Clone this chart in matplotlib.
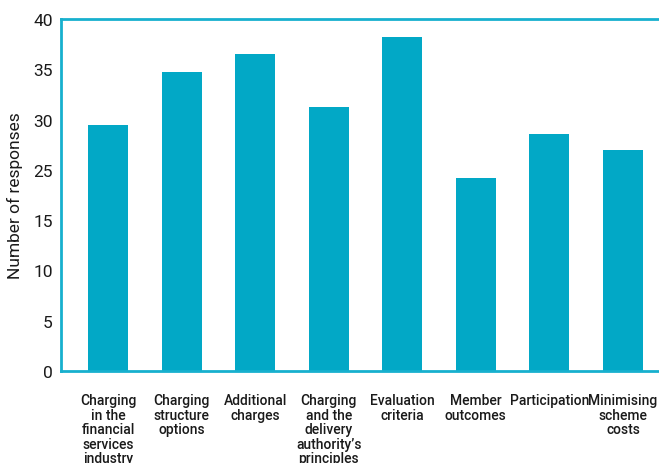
import matplotlib
matplotlib.use("Agg")
import matplotlib.pyplot as plt

# categories and values (in axis units; the printed tick labels skip "20")
categories = ["Charging\nin the\nfinancial\nservices\nindustry",
              "Charging\nstructure\noptions",
              "Additional\ncharges",
              "Charging\nand the\ndelivery\nauthority\u2019s\nprinciples",
              "Evaluation\ncriteria",
              "Member\noutcomes",
              "Participation",
              "Minimising\nscheme\ncosts"]
values = [24.45, 29.7, 31.5, 26.25, 33.2, 19.15, 23.55, 21.95]
tick_pos = [0, 5, 10, 15, 20, 25, 30, 35]
tick_labels = ["0", "5", "10", "15", "25", "30", "35", "40"]

bar_color = "#02A8C6"
spine_color = "#17B0CE"

plt.rcParams['font.family'] = ['Roboto', 'DejaVu Sans']

fig = plt.figure(figsize=(6.59, 4.64), dpi=100)
ax = fig.add_axes([61 / 659, 1 - 372 / 464, 1 - 61 / 659, 352 / 464])

x = list(range(len(categories)))
ax.bar(x, values, width=0.545, color=bar_color, zorder=2)

ax.set_xlim(-0.64, 7.49)
ax.set_ylim(0, 35)
ax.set_yticks(tick_pos)
ax.set_yticklabels(tick_labels, fontsize=12.5, color="#1a1a1a")
ax.set_xticks(x)
ax.set_xticklabels(categories, fontsize=10, fontweight="medium",
                   color="#1a1a1a", linespacing=1.05, ha="center",
                   multialignment="center")
ax.tick_params(axis="both", length=0)
ax.tick_params(axis="x", pad=16)
ax.tick_params(axis="y", pad=6)

for side in ["top", "left", "bottom"]:
    ax.spines[side].set_color(spine_color)
    ax.spines[side].set_linewidth(2)
ax.spines["right"].set_visible(False)

ax.set_ylabel("Number of responses", fontsize=12.5, color="#1a1a1a", labelpad=7)

fig.savefig("out.png", dpi=100)
